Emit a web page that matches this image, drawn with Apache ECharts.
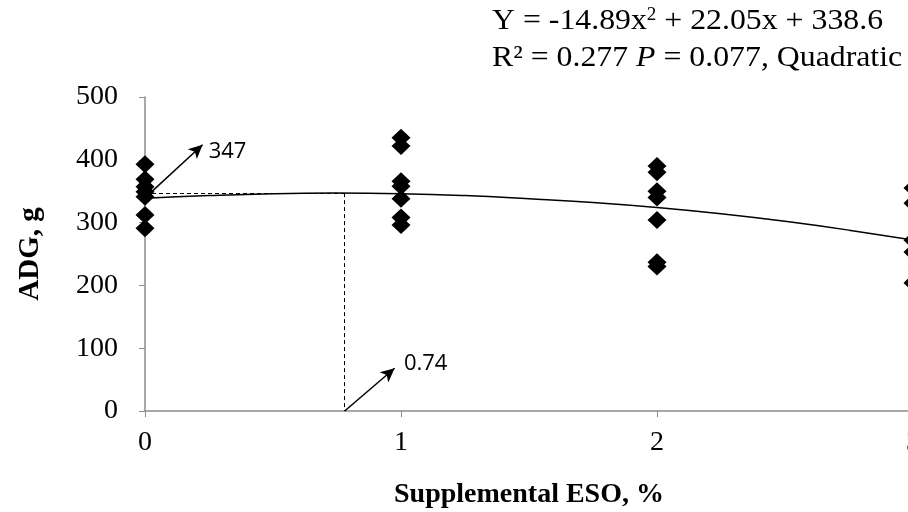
<!DOCTYPE html>
<html>
<head>
<meta charset="utf-8">
<script src="https://cdn.jsdelivr.net/npm/echarts@6/dist/echarts.min.js"></script>
<style>
  html, body { margin: 0; padding: 0; background: #fff; }
  #main { width: 908px; height: 512px; }
</style>
</head>
<body>
<div id="main"></div>
<script>
// observed ADG (g) at each ESO level
var levels = [0, 1, 2, 3];
var adg0 = [393, 369, 357, 349, 341, 312, 291];
var adg1 = [435, 422, 366, 358, 338, 308, 296];
var adg2 = [390, 380, 350, 340, 304, 237, 230];
var adg3 = [355, 331, 272, 253, 204];

// quadratic fit
var fitX = [0, 0.25, 0.5, 0.74, 1, 1.25, 1.5, 1.75, 2, 2.25, 2.5, 2.75, 3];
var fitY = [338.6, 343, 346, 347, 346, 343, 338, 332, 324, 314, 302, 288, 272];

var optX = 0.78, optY = 347;
var yTicks = [0, 100, 200, 300, 400, 500];

var points = [];
[adg0, adg1, adg2, adg3].forEach(function (arr, i) {
  arr.forEach(function (v) { points.push([levels[i], v]); });
});
var fit = fitX.map(function (x, i) { return [x, fitY[i]]; });

var serif = '"Liberation Serif", "Times New Roman", serif';
var sans = '"Open Sans", "DejaVu Sans", sans-serif';
var axisGray = '#8c8c8c';

var myChart = echarts.init(document.getElementById('main'));

var option = {
  animation: false,
  grid: { left: 145, width: 768, top: 97, height: 314, outerBoundsMode: 'none', containLabel: false },
  xAxis: {
    type: 'value', min: 0, max: 3, interval: 1,
    name: 'Supplemental ESO, %', nameLocation: 'middle', nameGap: 70,
    nameTextStyle: { fontFamily: serif, fontWeight: 'bold', fontSize: 28, color: '#000' },
    axisLine: { show: true, lineStyle: { color: axisGray, width: 1.5 } },
    axisTick: { show: true, length: 6, lineStyle: { color: axisGray } },
    axisLabel: { fontFamily: serif, fontSize: 28, color: '#000', margin: 18 },
    splitLine: { show: false }
  },
  yAxis: {
    type: 'value', min: yTicks[0], max: yTicks[yTicks.length - 1], interval: 100,
    name: 'ADG, g', nameLocation: 'middle', nameGap: 100, nameRotate: 90,
    nameTextStyle: { fontFamily: serif, fontWeight: 'bold', fontSize: 29, color: '#000' },
    axisLine: { show: true, lineStyle: { color: axisGray, width: 1.5 } },
    axisTick: { show: true, length: 6, lineStyle: { color: axisGray } },
    axisLabel: { fontFamily: serif, fontSize: 28, color: '#000', margin: 27 },
    splitLine: { show: false }
  },
  series: [
    {
      type: 'line', data: fit, smooth: true, symbol: 'none', z: 3,
      lineStyle: { color: '#000', width: 1.5 },
      markLine: {
        silent: true, symbol: 'none',
        lineStyle: { color: '#000', type: [4, 3], width: 1 },
        label: { show: false },
        data: [
          [{ coord: [0, optY] }, { coord: [optX, optY] }],
          [{ coord: [optX, optY] }, { coord: [optX, 0] }]
        ]
      }
    },
    {
      type: 'line', data: [], symbol: 'none',
      markLine: {
        silent: true, symbol: ['none', 'arrow'], symbolSize: [10, 14],
        lineStyle: { color: '#000', type: 'solid', width: 1.5 },
        label: { show: true, position: 'end', fontFamily: sans, fontSize: 22, color: '#000', distance: 4 },
        data: [
          [{ coord: [0.02, optY] }, { coord: [0.225, 424], label: { formatter: String(optY), offset: [22, 10] } }],
          [{ coord: [optX, 0] }, { coord: [0.975, 68], label: { formatter: '0.74', offset: [28, -2] } }]
        ]
      }
    },
    {
      type: 'scatter', data: points, symbol: 'diamond', symbolSize: [19, 18], z: 4,
      itemStyle: { color: '#000', opacity: 1 }
    }
  ],
  graphic: [
    {
      type: 'text', left: 492, top: 6, scaleX: 1.06,
      style: {
        text: 'Y = -14.89x{sup|2} + 22.05x + 338.6',
        font: '30px ' + serif, fill: '#000',
        rich: { sup: { fontSize: 18, verticalAlign: 'top', padding: [0, 0, 12, 0], fontFamily: serif } }
      }
    },
    {
      type: 'text', left: 492, top: 43, scaleX: 1.06,
      style: {
        text: 'R² = 0.277 {i|P} = 0.077, Quadratic',
        font: '30px ' + serif, fill: '#000',
        rich: { i: { fontStyle: 'italic', fontSize: 30, fontFamily: serif } }
      }
    }
  ]
};

myChart.setOption(option);
</script>
</body>
</html>
